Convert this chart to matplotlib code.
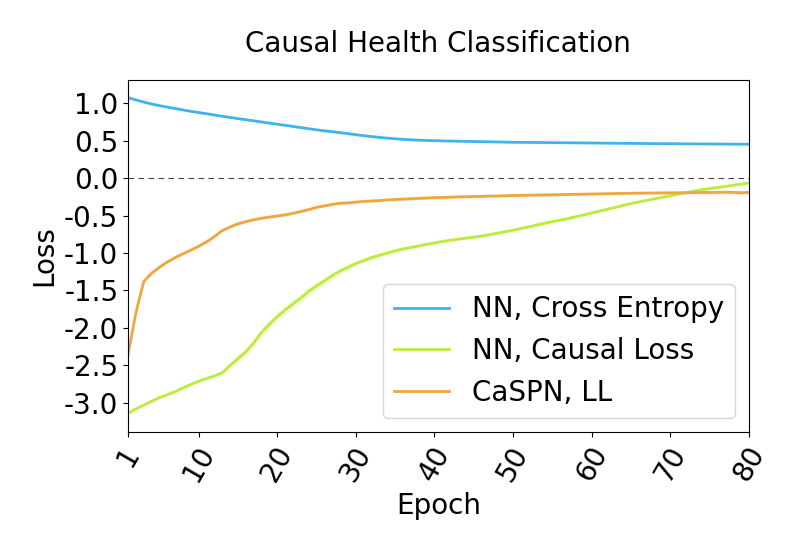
import numpy as np
import matplotlib
matplotlib.use("Agg")
import matplotlib.pyplot as plt

plt.rcParams["axes.unicode_minus"] = False

epochs = list(range(1, 81))

# NN trained with cross entropy
ce_loss = [1.075, 1.045, 1.015, 0.99, 0.968, 0.948, 0.93, 0.91, 0.892, 0.876,
           0.86, 0.843, 0.826, 0.81, 0.795, 0.78, 0.765, 0.75, 0.735, 0.72,
           0.705, 0.69, 0.675, 0.66, 0.645, 0.632, 0.62, 0.607, 0.594, 0.58,
           0.567, 0.555, 0.544, 0.534, 0.525, 0.518, 0.512, 0.507, 0.503, 0.50,
           0.497, 0.495, 0.493, 0.491, 0.489, 0.487, 0.485, 0.483, 0.481, 0.479,
           0.478, 0.477, 0.476, 0.475, 0.474, 0.473, 0.472, 0.471, 0.47, 0.469,
           0.468, 0.467, 0.466, 0.465, 0.464, 0.463, 0.462, 0.461, 0.46, 0.46,
           0.459, 0.458, 0.457, 0.457, 0.456, 0.455, 0.455, 0.454, 0.453, 0.453]
ce_std = [0.01, 0.01, 0.01, 0.01, 0.01, 0.01, 0.01, 0.01, 0.01, 0.01,
          0.01, 0.01, 0.01, 0.01, 0.01, 0.01, 0.01, 0.01, 0.01, 0.01,
          0.01, 0.01, 0.01, 0.01, 0.01, 0.01, 0.01, 0.01, 0.01, 0.01,
          0.01, 0.01, 0.01, 0.01, 0.01, 0.01, 0.01, 0.01, 0.01, 0.01,
          0.008, 0.008, 0.008, 0.008, 0.008, 0.008, 0.008, 0.008, 0.008, 0.008,
          0.008, 0.008, 0.008, 0.008, 0.008, 0.008, 0.008, 0.008, 0.008, 0.008,
          0.008, 0.008, 0.008, 0.008, 0.008, 0.008, 0.008, 0.008, 0.008, 0.008,
          0.008, 0.008, 0.008, 0.008, 0.008, 0.008, 0.008, 0.008, 0.008, 0.008]

# NN trained with causal loss
causal_loss = [-3.14, -3.08, -3.03, -2.98, -2.93, -2.89, -2.85, -2.80, -2.755, -2.71,
               -2.675, -2.64, -2.60, -2.50, -2.41, -2.32, -2.20, -2.06, -1.95, -1.85,
               -1.76, -1.68, -1.60, -1.51, -1.44, -1.37, -1.30, -1.24, -1.19, -1.14,
               -1.10, -1.06, -1.03, -1.00, -0.97, -0.945, -0.925, -0.905, -0.885, -0.865,
               -0.845, -0.83, -0.815, -0.80, -0.787, -0.773, -0.755, -0.735, -0.715, -0.695,
               -0.673, -0.65, -0.627, -0.603, -0.58, -0.56, -0.54, -0.515, -0.49, -0.465,
               -0.44, -0.415, -0.39, -0.365, -0.34, -0.318, -0.296, -0.275, -0.255, -0.235,
               -0.215, -0.195, -0.175, -0.155, -0.14, -0.125, -0.11, -0.095, -0.08, -0.065]
causal_std = [0.02, 0.02, 0.02, 0.02, 0.02, 0.02, 0.02, 0.02, 0.02, 0.02,
              0.02, 0.025, 0.03, 0.04, 0.05, 0.06, 0.06, 0.06, 0.06, 0.06,
              0.06, 0.06, 0.06, 0.055, 0.05, 0.05, 0.045, 0.04, 0.04, 0.035,
              0.03, 0.03, 0.03, 0.025, 0.025, 0.025, 0.02, 0.02, 0.02, 0.02,
              0.02, 0.02, 0.02, 0.02, 0.02, 0.02, 0.02, 0.02, 0.02, 0.02,
              0.015, 0.015, 0.015, 0.015, 0.015, 0.015, 0.015, 0.015, 0.015, 0.015,
              0.015, 0.015, 0.015, 0.015, 0.015, 0.015, 0.015, 0.015, 0.015, 0.015,
              0.015, 0.015, 0.015, 0.015, 0.015, 0.015, 0.015, 0.015, 0.015, 0.015]

# CaSPN log-likelihood
caspn_ll = [-2.36, -1.80, -1.38, -1.27, -1.19, -1.12, -1.06, -1.01, -0.96, -0.91,
            -0.85, -0.78, -0.70, -0.65, -0.61, -0.58, -0.555, -0.535, -0.52, -0.505,
            -0.49, -0.47, -0.445, -0.42, -0.39, -0.37, -0.35, -0.335, -0.33, -0.32,
            -0.31, -0.305, -0.30, -0.29, -0.285, -0.28, -0.275, -0.27, -0.265, -0.26,
            -0.258, -0.255, -0.25, -0.248, -0.245, -0.243, -0.24, -0.238, -0.235, -0.232,
            -0.23, -0.228, -0.226, -0.224, -0.222, -0.22, -0.218, -0.216, -0.214, -0.212,
            -0.21, -0.208, -0.206, -0.204, -0.202, -0.20, -0.199, -0.198, -0.197, -0.196,
            -0.195, -0.194, -0.193, -0.192, -0.191, -0.19, -0.188, -0.19, -0.195, -0.19]
caspn_std = [0.02, 0.02, 0.02, 0.02, 0.02, 0.02, 0.02, 0.02, 0.02, 0.02,
             0.02, 0.02, 0.02, 0.02, 0.02, 0.02, 0.02, 0.02, 0.02, 0.02,
             0.02, 0.02, 0.02, 0.02, 0.02, 0.02, 0.02, 0.02, 0.02, 0.02,
             0.02, 0.02, 0.02, 0.02, 0.02, 0.02, 0.02, 0.02, 0.02, 0.02,
             0.02, 0.02, 0.02, 0.02, 0.02, 0.02, 0.02, 0.02, 0.02, 0.02,
             0.02, 0.02, 0.02, 0.02, 0.02, 0.02, 0.02, 0.02, 0.02, 0.02,
             0.02, 0.02, 0.02, 0.02, 0.02, 0.02, 0.02, 0.02, 0.02, 0.02,
             0.02, 0.02, 0.02, 0.02, 0.02, 0.02, 0.02, 0.02, 0.02, 0.02]

labels = ["NN, Cross Entropy", "NN, Causal Loss", "CaSPN, LL"]
colors = ["#3fb3ee", "#bdeb3c", "#f0a63f"]
xticks = [1, 10, 20, 30, 40, 50, 60, 70, 80]

fig = plt.figure(figsize=(8, 5.5), dpi=100)
ax = fig.add_axes([0.16, 0.2145, 0.776, 0.64])

x = np.array(epochs)
for mean, std, lab, col in zip([ce_loss, causal_loss, caspn_ll],
                               [ce_std, causal_std, caspn_std], labels, colors):
    mean = np.array(mean)
    std = np.array(std)
    ax.fill_between(x, mean - std, mean + std, color=col, alpha=0.2, lw=0)
    ax.plot(x, mean, color=col, lw=2, label=lab)

ax.axhline(0.0, color="#444444", lw=0.8, ls=(0, (5, 4)))

ax.set_xlim(1, 80)
ax.set_ylim(-3.39, 1.31)
ax.set_xticks(xticks)
ax.set_yticks([1.0, 0.5, 0.0, -0.5, -1.0, -1.5, -2.0, -2.5, -3.0])
ax.tick_params(labelsize=20)
plt.setp(ax.get_xticklabels(), rotation=60)

ax.set_xlabel("Epoch", fontsize=20)
ax.set_ylabel("Loss", fontsize=20)
ax.set_title("Causal Health Classification", fontsize=20, pad=20)
ax.legend(loc="lower right", fontsize=20)

fig.savefig("out.png", dpi=100)
